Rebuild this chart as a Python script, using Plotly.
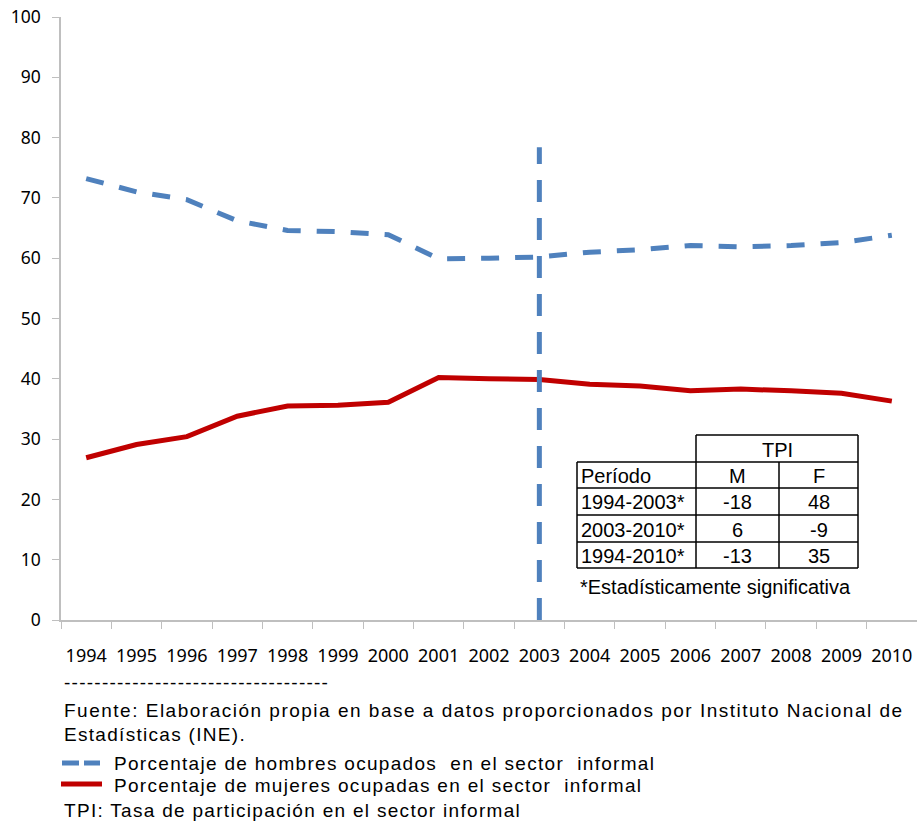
import plotly.graph_objects as go

# ---------------- data ----------------
years = ["1994", "1995", "1996", "1997", "1998", "1999", "2000", "2001", "2002",
         "2003", "2004", "2005", "2006", "2007", "2008", "2009", "2010"]
men = [73.2, 71.0, 69.7, 66.2, 64.6, 64.4, 63.9, 59.9, 60.0,
       60.2, 61.0, 61.4, 62.1, 61.9, 62.1, 62.6, 63.8]
women = [26.9, 29.1, 30.4, 33.8, 35.5, 35.6, 36.1, 40.2, 40.0,
         39.9, 39.1, 38.8, 38.0, 38.3, 38.0, 37.6, 36.3]
y_ticks = [0, 10, 20, 30, 40, 50, 60, 70, 80, 90, 100]

vline_year = "2003"
vline_range = [0, 78.4]

men_label = "Porcentaje de hombres ocupados  en el sector  informal"
women_label = "Porcentaje de mujeres ocupadas en el sector  informal"

table_header = "TPI"
table_cols = ["Período", "M", "F"]
table_periods = ["1994-2003*", "2003-2010*", "1994-2010*"]
table_M = ["-18", "6", "-13"]
table_F = ["48", "-9", "35"]
table_note = "*Estadísticamente significativa"

footer_sep = "-" * 35
footer_source = "Fuente: Elaboración propia en base a datos proporcionados por Instituto Nacional de"
footer_source2 = "Estadísticas (INE)."
footer_tpi = "TPI: Tasa de participación en el sector informal"

# ---------------- geometry helpers (pixel -> paper) ----------------
W, H = 917, 825
L, R, T, B = 61, 0, 17, 205
PW, PH = W - L - R, H - T - B


def px(x):
    return (x - L) / PW


def py(y):
    return (H - B - y) / PH


BLUE = "#4F81BD"
RED = "#C00000"
ARIAL = "Liberation Sans, Arial, sans-serif"

fig = go.Figure()
fig.add_trace(go.Scatter(x=years, y=men, mode="lines", name=men_label, showlegend=False,
                         line=dict(color=BLUE, width=5, dash="18px,16px")))
fig.add_trace(go.Scatter(x=years, y=women, mode="lines", name=women_label, showlegend=False,
                         line=dict(color=RED, width=5)))
fig.add_trace(go.Scatter(x=[vline_year, vline_year], y=vline_range, mode="lines",
                         showlegend=False, hoverinfo="skip",
                         line=dict(color=BLUE, width=5, dash="22px,16px")))

shapes = []
annotations = []


def seg(x0, x1, y0, y1, color="black", width=1.5, dash=None):
    ln = dict(color=color, width=width)
    if dash:
        ln["dash"] = dash
    shapes.append(dict(type="line", xref="paper", yref="paper",
                       x0=px(x0), x1=px(x1), y0=py(y0), y1=py(y1), line=ln))


def text(s, x, y, anchor="center", size=20, spacing=None):
    if spacing:
        s = '<span style="letter-spacing:%.2fpx">%s</span>' % (spacing, s)
    annotations.append(dict(text=s, xref="paper", yref="paper", x=px(x), y=py(y),
                            xanchor=anchor, yanchor="middle", showarrow=False,
                            font=dict(family=ARIAL, size=size, color="black")))


# ---------------- table ----------------
xs = [577, 696, 779, 858]
ys = [435, 462, 488, 515, 542, 568]
seg(xs[1], xs[3], ys[0], ys[0])
for y in ys[1:]:
    seg(xs[0], xs[3], y, y)
seg(xs[0], xs[0], ys[1], ys[-1])
seg(xs[1], xs[1], ys[0], ys[-1])
seg(xs[2], xs[2], ys[1], ys[-1])
seg(xs[3], xs[3], ys[0], ys[-1])

text(table_header, (xs[1] + xs[3]) / 2, (ys[0] + ys[1]) / 2 + 1)
text(table_cols[0], xs[0] + 2, (ys[1] + ys[2]) / 2 + 1, anchor="left")
text(table_cols[1], (xs[1] + xs[2]) / 2, (ys[1] + ys[2]) / 2 + 1)
text(table_cols[2], (xs[2] + xs[3]) / 2, (ys[1] + ys[2]) / 2 + 1)
for i in range(len(table_periods)):
    yc = (ys[i + 2] + ys[i + 3]) / 2 + 1
    text(table_periods[i], xs[0] + 2, yc, anchor="left")
    text(table_M[i], (xs[1] + xs[2]) / 2, yc)
    text(table_F[i], (xs[2] + xs[3]) / 2, yc)
text(table_note, 578, 587, anchor="left")

# ---------------- footer / legend ----------------
text(footer_sep, 62, 682, anchor="left", size=19, spacing=1.25)
text(footer_source, 62, 710, anchor="left", size=19, spacing=1.5)
text(footer_source2, 62, 734, anchor="left", size=19, spacing=1.3)
seg(62, 100, 763, 763, color=BLUE, width=5, dash="17px,5px")
text(men_label, 112, 763, anchor="left", size=19, spacing=1.3)
seg(61, 102, 784, 784, color=RED, width=5)
text(women_label, 112, 785, anchor="left", size=19, spacing=1.3)
text(footer_tpi, 62, 810, anchor="left", size=19, spacing=1.3)

fig.update_layout(
    width=W, height=H,
    margin=dict(l=L, r=R, t=T, b=B, autoexpand=False),
    plot_bgcolor="white", paper_bgcolor="white",
    shapes=shapes, annotations=annotations,
    showlegend=False,
    xaxis=dict(type="category", range=[-0.5, 16.5], showgrid=False, automargin=False,
               showline=True, linecolor="#BFBFBF", linewidth=1.5,
               ticks="outside", tickson="boundaries", ticklen=7, tickcolor="#BFBFBF",
               tickfont=dict(family="Noto Sans", size=18, color="black"),
               ticklabelstandoff=19),
    yaxis=dict(range=[0, 100], tickvals=y_ticks, showgrid=False, zeroline=False,
               automargin=False,
               showline=True, linecolor="#BFBFBF", linewidth=1.5,
               ticks="outside", ticklen=7, tickcolor="#BFBFBF",
               tickfont=dict(family="Noto Sans", size=17.5, color="black"),
               ticklabelstandoff=8),
)

fig.write_html("out.html", config={"displayModeBar": False},
               post_script="document.body.style.margin='0';document.body.style.overflow='hidden';")
